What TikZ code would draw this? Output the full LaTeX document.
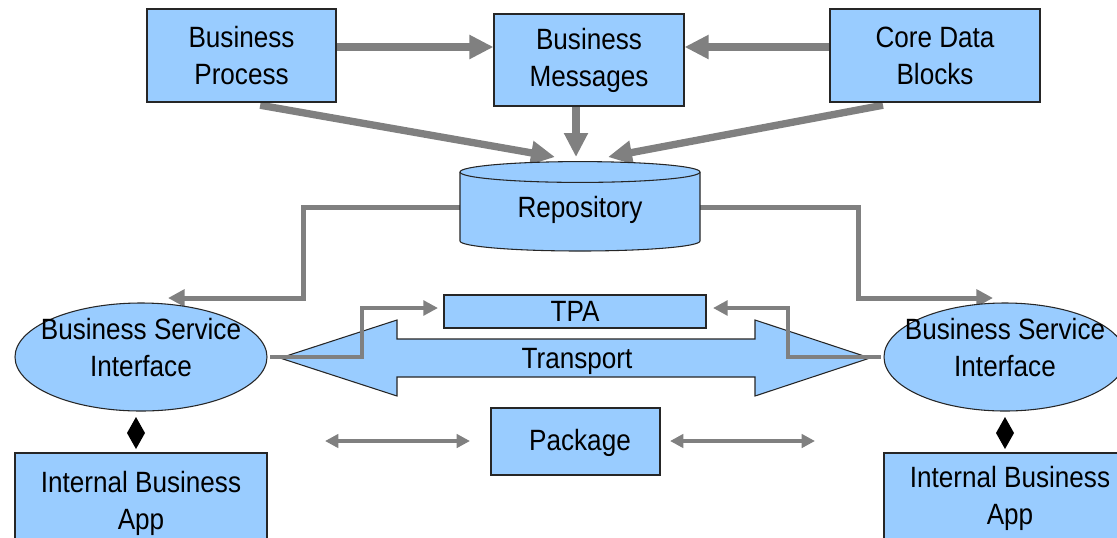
\documentclass[tikz,border=0pt]{standalone}
\usepackage{fontspec}
\setmainfont{Liberation Sans}[FakeStretch=0.89]
\usetikzlibrary{arrows.meta,shapes.geometric,backgrounds}
\definecolor{boxblue}{HTML}{99CCFF}
\definecolor{linkgray}{HTML}{808080}

\begin{document}
\begin{tikzpicture}[x=0.75pt,y=-0.75pt,
  every node/.style={font=\fontsize{22pt}{27.75pt}\selectfont, inner sep=0pt, align=center},
  box/.style={rectangle, draw=black!85, line width=0.8pt, fill=boxblue},
  oval/.style={ellipse, draw=black!85, line width=0.8pt, fill=boxblue},
  bigarrow/.style={draw=linkgray, line width=5.5pt, -{Triangle[length=18pt,width=17pt]}},
  midarrow/.style={draw=linkgray, line width=3.75pt, -{Triangle[length=12.5pt,width=12.5pt]}},
  tpaarrow/.style={draw=linkgray, line width=3.4pt, -{Triangle[length=11pt,width=11pt]}},
  pkgarrow/.style={draw=linkgray, line width=3pt, {Triangle[length=10pt,width=10pt]}-{Triangle[length=10pt,width=10pt]}},
  link/.style={fill=black}
]
\useasboundingbox (0,0) rectangle (1117,537);
\clip (0,0) rectangle (1117,537);

% top row of sources
\node[box, minimum width=189*0.75pt, minimum height=93*0.75pt] (bp)  at (241.5,55.5) {Business\\Process};
\node[box, minimum width=190*0.75pt, minimum height=92*0.75pt] (bm)  at (589,60)    {Business\\Messages};
\node[box, minimum width=210*0.75pt, minimum height=93*0.75pt] (cdb) at (935,55.5)  {Core Data\\Blocks};

% repository cylinder
\path[fill=boxblue, draw=black!85, line width=0.8pt]
  (460,172) -- (460,241)
  arc[start angle=180, end angle=360, x radius=90pt, y radius=7.5pt]
  -- (700,172)
  arc[start angle=0, end angle=180, x radius=90pt, y radius=7.8pt] -- cycle;
\draw[black!85, line width=0.8pt] (460,172)
  arc[start angle=180, end angle=360, x radius=90pt, y radius=7.8pt];
\node[minimum width=240*0.75pt, minimum height=60*0.75pt] (repo) at (580,207) {};
\node (repotext) at (580,210) {Repository};

% service interfaces
\node[oval, minimum width=252*0.75pt, minimum height=108*0.75pt] (bsiL) at (141,357) {};
\node (bsiLtext) at (141,347.5) {Business Service\\Interface};
\node[oval, minimum width=242*0.75pt, minimum height=108*0.75pt] (bsiR) at (1005,357) {};
\node (bsiRtext) at (1005,347.5) {Business Service\\Interface};

% middle boxes
\node[box, minimum width=262*0.75pt, minimum height=33*0.75pt] (tpa) at (575,311.5) {TPA};
\node[box, minimum width=169*0.75pt, minimum height=67*0.75pt] (pkg) at (575.5,441.5) {};
\node (pkgtext) at (580,443) {Package};

% internal applications
\node[box, minimum width=252*0.75pt, minimum height=100*0.75pt] (ibaL) at (141,503) {Internal Business\\App};
\node[box, minimum width=252*0.75pt, minimum height=91*0.75pt] (ibaR) at (1010,498.5) {Internal Business\\App};

% composition diamonds
\path[link] (136,417) -- (145,433) -- (136,449) -- (127,433) -- cycle;
\path[link] (1005,417) -- (1014,433) -- (1005,449) -- (996,433) -- cycle;

% anchor points for connectors
\coordinate (rowTop) at (0,47);
\coordinate (repoTop) at (576,157);
\coordinate (diagL) at (555,157);
\coordinate (diagR) at (608,157);
\coordinate (bendL) at (303,298);
\coordinate (tipL) at (168,298);
\coordinate (bendR) at (858,298);
\coordinate (tipR) at (993,298);
\coordinate (kneeL) at (362,308);
\coordinate (tpaInL) at (438,308);
\coordinate (kneeR) at (788,308);
\coordinate (tpaInR) at (713,308);
\coordinate (pkgLa) at (325,441);
\coordinate (pkgLb) at (470,441);
\coordinate (pkgRa) at (670,441);
\coordinate (pkgRb) at (815,441);

\begin{scope}[on background layer]
  % transport double arrow
  \path[fill=boxblue, draw=black!85, line width=0.8pt]
    (280,358) -- (397,320) -- (397,339) -- (755,339) -- (755,320) -- (870,358)
    -- (755,396) -- (755,377) -- (397,377) -- (397,396) -- cycle;

  \draw[bigarrow] (bp.east |- rowTop) -- (bm.west |- rowTop);
  \draw[bigarrow] (cdb.west |- rowTop) -- (bm.east |- rowTop);
  \draw[bigarrow] (bm.south -| repoTop) -- (repoTop);
  \draw[bigarrow] ([xshift=14pt,yshift=-2pt]bp.south) -- (diagL);
  \draw[bigarrow] ([xshift=-39pt,yshift=-2pt]cdb.south) -- (diagR);

  \draw[midarrow] (repo.west) -| (bendL) -- (tipL);
  \draw[midarrow] (repo.east) -| (bendR) -- (tipR);
\end{scope}

\node (transport) at (577,361) {Transport};
\draw[tpaarrow] ([xshift=2pt]bsiL.east) -| (kneeL) -- (tpaInL);
\draw[tpaarrow] ([xshift=-2pt]bsiR.west) -| (kneeR) -- (tpaInR);

\draw[pkgarrow] (pkgLa) -- (pkgLb);
\draw[pkgarrow] (pkgRa) -- (pkgRb);
\end{tikzpicture}
\end{document}
